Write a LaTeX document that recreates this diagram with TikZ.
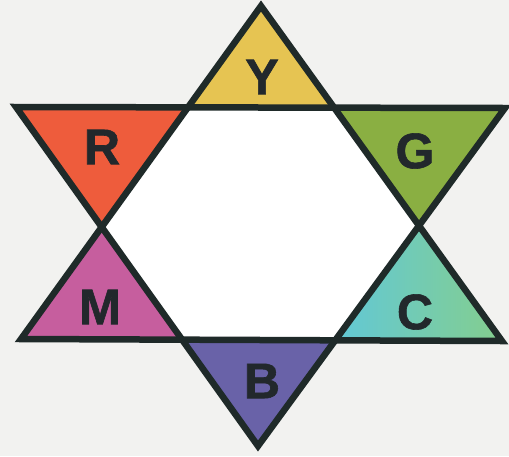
\documentclass[tikz,border=0pt]{standalone}
\usepackage{fontspec}
\setmainfont{Liberation Sans}[BoldFeatures={FakeBold=1.2}]
\definecolor{bg}{HTML}{F2F2F0}
\definecolor{ink}{HTML}{1F2A29}
\definecolor{txt}{HTML}{22282C}
\definecolor{cY}{HTML}{E6C452}
\definecolor{cR}{HTML}{EE5C3C}
\definecolor{cG}{HTML}{8AAF42}
\definecolor{cCl}{HTML}{62C8D6}
\definecolor{cCr}{HTML}{84CE8E}
\definecolor{cM}{HTML}{C65E9E}
\definecolor{cB}{HTML}{6962A8}
\begin{document}
\begin{tikzpicture}[x=1pt,y=-1pt,
  edge/.style={draw=ink,line width=6.5pt,line join=miter,miter limit=10},
  letter/.style={text=txt,font=\fontsize{50}{50}\selectfont\bfseries,inner sep=0pt}]
\fill[bg] (0,0) rectangle (509,456);
\useasboundingbox (0,0) rectangle (509,456);
% big triangles
\coordinate (A) at (261,6);
\coordinate (BL) at (21,339);
\coordinate (BR) at (502,341);
\coordinate (DL) at (16,107);
\coordinate (DR) at (505,108);
\coordinate (D) at (258,446);
% inner hexagon corners
\coordinate (h1) at (intersection of A--BL and DL--DR);
\coordinate (h2) at (intersection of A--BR and DL--DR);
\coordinate (h3) at (intersection of A--BR and DR--D);
\coordinate (h4) at (intersection of BL--BR and DR--D);
\coordinate (h5) at (intersection of BL--BR and DL--D);
\coordinate (h6) at (intersection of A--BL and DL--D);
% fills
\fill[white] (h1) -- (h2) -- (h3) -- (h4) -- (h5) -- (h6) -- cycle;
\fill[cY] (A) -- (h2) -- (h1) -- cycle;
\fill[cG] (h2) -- (DR) -- (h3) -- cycle;
\shade[left color=cCl,right color=cCr] (h3) -- (BR) -- (h4) -- cycle;
\fill[cB] (h4) -- (D) -- (h5) -- cycle;
\fill[cM] (h5) -- (BL) -- (h6) -- cycle;
\fill[cR] (h6) -- (DL) -- (h1) -- cycle;
% outlines
\draw[edge] (A) -- (BR) -- (BL) -- cycle;
\draw[edge] (DL) -- (DR) -- (D) -- cycle;
% letters
\node[letter] (Y) at (262,77) {Y};
\node[letter] (R) at (102,147) {R};
\node[letter] (G) at (415,151) {G};
\node[letter] (M) at (100,307) {M};
\node[letter] (C) at (415,312) {C};
\node[letter] (B) at (262,381) {B};
\end{tikzpicture}
\end{document}
